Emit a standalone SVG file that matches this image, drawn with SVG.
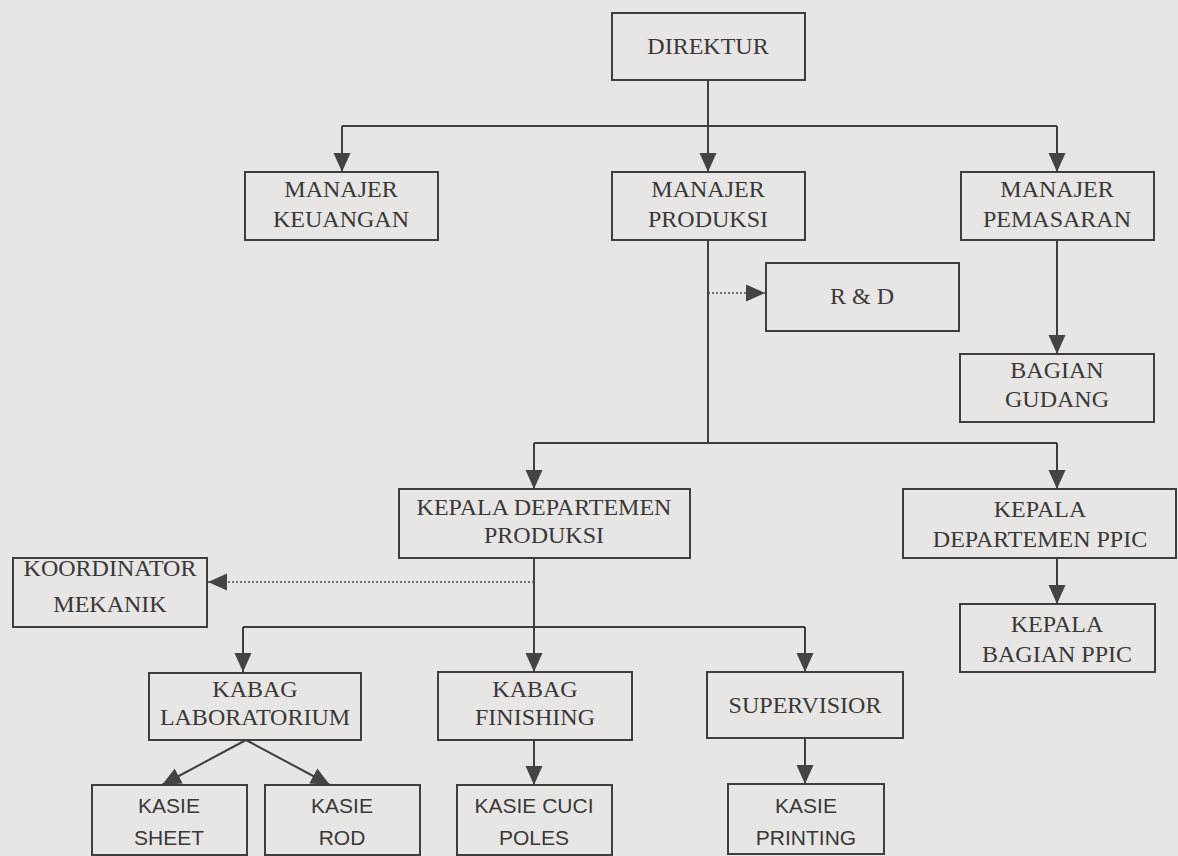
<svg xmlns="http://www.w3.org/2000/svg" width="1178" height="856" viewBox="0 0 1178 856">
<style>
.bg{fill:#e8e6e5}
.box{fill:none;stroke:#3e3e3e;stroke-width:2}
.t{font-family:"Liberation Serif","Times New Roman",serif;font-size:24px;fill:#383838;text-anchor:middle}
.s{font-family:"Liberation Sans",Arial,sans-serif;font-size:21px;fill:#383838;text-anchor:middle}
.ln{fill:none;stroke:#3e3e3e;stroke-width:2}
.ar{fill:none;stroke:#3e3e3e;stroke-width:2;marker-end:url(#ah)}
.dt{fill:none;stroke:#4a4a4a;stroke-width:1.6;stroke-dasharray:2 2;marker-end:url(#ah)}
</style>
<defs>
<marker id="ah" markerUnits="userSpaceOnUse" markerWidth="20" markerHeight="18" refX="19" refY="8.5" orient="auto" viewBox="0 0 20 17">
<path d="M0,0 L19,8.5 L0,17 z" fill="#444"/>
</marker>
</defs>
<rect class="bg" x="0" y="0" width="1178" height="856"/>

<g id="connectors">
<path class="ln" d="M708,80 V126 M342,126 H1057"/>
<path class="ar" d="M708,126 V172"/>
<path class="ar" d="M342,126 V172"/>
<path class="ar" d="M1057,126 V172"/>
<path class="ln" d="M708,240 V443 M534,443 H1057"/>
<path class="dt" d="M708,293 H765"/>
<path class="ar" d="M1057,240 V354"/>
<path class="ar" d="M534,443 V489"/>
<path class="ar" d="M1057,443 V489"/>
<path class="ar" d="M1057,558 V604"/>
<path class="ln" d="M534,558 V627 M243,627 H805"/>
<path class="dt" d="M534,582 H208"/>
<path class="ar" d="M534,627 V672"/>
<path class="ar" d="M243,627 V672"/>
<path class="ar" d="M805,627 V672"/>
<path class="ar" d="M246,740 L162,785"/>
<path class="ar" d="M246,740 L330,785"/>
<path class="ar" d="M534,740 V785"/>
<path class="ar" d="M805,738 V784"/>
</g>

<g id="direktur"><rect class="box" x="612" y="13" width="193" height="67"/><text class="t" x="708" y="54">DIREKTUR</text></g>
<g id="manajer-keuangan"><rect class="box" x="245" y="172" width="193" height="68"/><text class="t" x="341" y="197">MANAJER</text><text class="t" x="341" y="227">KEUANGAN</text></g>
<g id="manajer-produksi"><rect class="box" x="612" y="172" width="193" height="68"/><text class="t" x="708" y="197">MANAJER</text><text class="t" x="708" y="227">PRODUKSI</text></g>
<g id="manajer-pemasaran"><rect class="box" x="961" y="172" width="193" height="68"/><text class="t" x="1057" y="197">MANAJER</text><text class="t" x="1057" y="227">PEMASARAN</text></g>
<g id="rnd"><rect class="box" x="766" y="263" width="193" height="68"/><text class="t" x="862" y="304">R &amp; D</text></g>
<g id="bagian-gudang"><rect class="box" x="960" y="354" width="194" height="68"/><text class="t" x="1057" y="378">BAGIAN</text><text class="t" x="1057" y="407">GUDANG</text></g>
<g id="kepala-dept-produksi"><rect class="box" x="399" y="489" width="291" height="69"/><text class="t" x="544" y="515">KEPALA DEPARTEMEN</text><text class="t" x="544" y="543">PRODUKSI</text></g>
<g id="kepala-dept-ppic"><rect class="box" x="903" y="489" width="273" height="69"/><text class="t" x="1040" y="517">KEPALA</text><text class="t" x="1040" y="547">DEPARTEMEN PPIC</text></g>
<g id="kepala-bagian-ppic"><rect class="box" x="960" y="604" width="195" height="68"/><text class="t" x="1057" y="632">KEPALA</text><text class="t" x="1057" y="662">BAGIAN PPIC</text></g>
<g id="koordinator-mekanik"><rect class="box" x="13" y="558" width="194" height="69"/><text class="t" x="110" y="576">KOORDINATOR</text><text class="t" x="110" y="612">MEKANIK</text></g>
<g id="kabag-laboratorium"><rect class="box" x="149" y="673" width="212" height="67"/><text class="t" x="255" y="697">KABAG</text><text class="t" x="255" y="725">LABORATORIUM</text></g>
<g id="kabag-finishing"><rect class="box" x="438" y="672" width="194" height="68"/><text class="t" x="535" y="697">KABAG</text><text class="t" x="535" y="725">FINISHING</text></g>
<g id="supervisior"><rect class="box" x="707" y="672" width="196" height="66"/><text class="t" x="805" y="713">SUPERVISIOR</text></g>
<g id="kasie-sheet"><rect class="box" x="92" y="785" width="155" height="70"/><text class="s" x="169" y="813">KASIE</text><text class="s" x="169" y="845">SHEET</text></g>
<g id="kasie-rod"><rect class="box" x="265" y="785" width="155" height="70"/><text class="s" x="342" y="813">KASIE</text><text class="s" x="342" y="845">ROD</text></g>
<g id="kasie-cuci-poles"><rect class="box" x="457" y="785" width="155" height="70"/><text class="s" x="534" y="813">KASIE CUCI</text><text class="s" x="534" y="845">POLES</text></g>
<g id="kasie-printing"><rect class="box" x="728" y="784" width="156" height="70"/><text class="s" x="806" y="813">KASIE</text><text class="s" x="806" y="845">PRINTING</text></g>
</svg>
